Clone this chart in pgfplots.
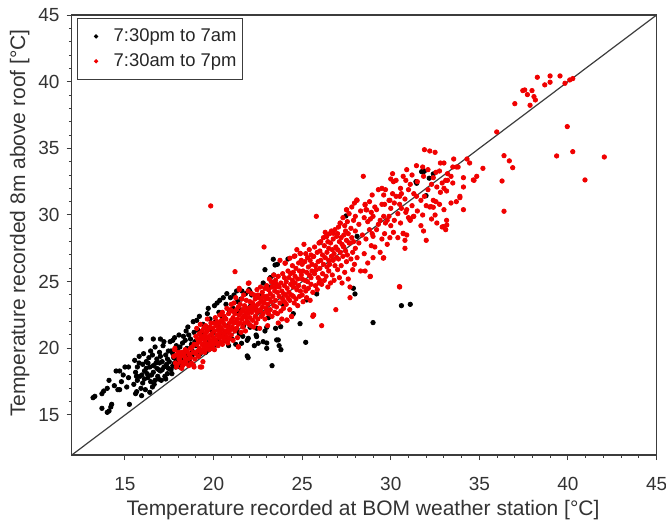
\documentclass[border=0pt]{standalone}
\usepackage{fontspec}
\setmainfont{Liberation Sans}
\usepackage{pgfplots}
\pgfplotsset{compat=1.18}
\definecolor{axgray}{RGB}{60,60,60}
\definecolor{dotred}{RGB}{240,0,0}
\begin{document}
\begin{tikzpicture}
\useasboundingbox (-35.9pt,-35pt) rectangle (297.1pt,227.5pt);
\begin{axis}[
  at={(0,0)}, anchor=south west,
  scale only axis, width=292.4pt, height=220pt,
  xmin=12, xmax=45, ymin=12, ymax=45,
  xtick={15,20,...,45}, ytick={15,20,...,45},
  minor x tick num=4, minor y tick num=4,
  tick align=outside, tick pos=left,
  major tick length=2.6pt, minor tick length=1.5pt,
  axis line style={axgray, line width=0.6pt},
  every tick/.style={axgray, line width=0.5pt},
  /pgf/number format/assume math mode=true,
  tick label style={font=\fontsize{9.5}{11.4}\selectfont, text=black!80},
  xticklabel style={yshift=-5pt},
  label style={font=\fontsize{10.5}{12.6}\selectfont, text=black!80},
  xlabel={Temperature recorded at BOM weather station [°C]},
  ylabel={Temperature recorded 8m above roof [°C]},
  xlabel style={at={(axis description cs:0.498,-0.125)}, anchor=center},
  ylabel style={at={(axis description cs:-0.089,0.527)}, anchor=center},
  legend style={at={(axis description cs:0,1)}, anchor=north west, xshift=2.6pt, yshift=-1.5pt,
    draw=axgray, line width=0.5pt, font=\fontsize{9.2}{11}\selectfont, text=black!85,
    inner xsep=8.5pt, inner ysep=3pt, row sep=0.5pt},
  legend cell align=left,
  legend image code/.code={\draw[mark repeat=2,mark phase=2,#1,draw=none,mark size=0.8pt] plot coordinates {(0pt,0pt)(7pt,0pt)(14pt,0pt)};},
]
\addplot[only marks, mark=*, mark size=1.1pt, mark options={draw=black, fill=black}] coordinates {
(13.2,16.3)(13.3,16.4)(13.7,15.5)(13.8,16.8)(14.0,17.0)(14.1,17.6)(14.0,15.2)(14.1,15.3)(14.2,15.6)(14.25,15.8)
(14.5,18.3)(14.7,18.3)(14.4,17.2)(14.6,16.9)(14.8,17.5)(15.1,17.1)(15.25,15.8)(14.9,18.0)(15.0,18.6)(15.2,17.8)
(13.7,16.6)(14.7,16.9)(15.9,20.7)(16.6,20.7)(17.0,20.7)(17.7,20.6)(15.2,18.6)(15.94,16.45)(15.66,16.75)
(15.5,17.3)(15.6,18.2)(15.7,17.6)(15.8,18.9)(15.9,17.0)(15.6,16.6)(15.8,19.4)(15.95,18.0)(15.7,18.6)(15.55,19.1)(15.85,17.9)(15.65,17.9)
(16.0,17.4)(16.1,18.3)(16.2,19.0)(16.3,17.8)(16.4,18.6)(16.05,19.6)(16.15,16.9)(16.25,18.1)(16.35,19.3)(16.45,17.5)(16.1,17.7)(16.3,18.9)(16.4,16.7)(16.2,18.5)(16.0,18.8)(16.45,19.8)
(16.5,18.0)(16.6,18.7)(16.7,17.6)(16.8,19.2)(16.9,18.4)(16.55,19.5)(16.65,17.3)(16.75,18.9)(16.85,17.9)(16.95,19.7)(16.6,18.2)(16.8,18.5)(16.7,20.1)(16.9,17.7)(16.55,17.1)(16.95,18.9)
(17.0,18.3)(17.1,19.0)(17.2,18.6)(17.3,19.5)(17.4,18.1)(17.05,17.6)(17.15,20.2)(17.25,17.9)(17.35,18.8)(17.45,19.8)(17.1,18.4)(17.3,17.7)(17.4,19.2)(17.2,20.5)(17.0,19.4)(17.45,18.5)
(17.5,19.0)(17.6,18.4)(17.7,19.6)(17.8,18.9)(17.9,20.2)(17.55,20.5)(17.65,18.1)(17.75,19.3)(17.85,18.6)(17.95,19.9)(17.6,19.8)(17.8,20.8)(17.7,18.7)(17.9,19.1)
(18.0,19.4)(18.1,20.1)(18.2,18.8)(18.3,19.7)(18.4,20.6)(18.05,21.0)(18.15,19.2)(18.25,20.4)(18.35,19.0)(18.45,21.3)(18.1,18.6)(18.3,20.9)(18.4,19.5)
(18.5,20.0)(18.6,19.3)(18.7,20.7)(18.8,19.8)(18.9,21.2)(18.55,21.6)(18.65,19.0)(18.75,20.3)(18.85,22.0)(18.95,20.5)(18.6,21.0)(18.8,19.5)
(19.0,20.2)(19.1,21.4)(19.2,19.8)(19.3,20.9)(19.4,21.8)(19.05,22.1)(19.15,20.6)(19.25,19.6)(19.35,21.1)(19.45,20.3)(19.2,22.4)
(19.5,20.8)(19.6,21.6)(19.7,20.1)(19.8,22.2)(19.9,21.0)(19.55,19.7)(19.65,22.6)(19.75,20.5)(19.85,21.4)(19.95,20.0)(19.7,23.0)
(20.0,21.2)(20.1,22.0)(20.2,20.6)(20.3,22.7)(20.4,21.5)(20.05,23.2)(20.15,20.3)(20.25,21.8)(20.35,23.6)(20.45,20.9)(20.2,23.4)
(20.5,22.3)(20.6,21.1)(20.7,23.3)(20.8,21.7)(20.9,22.8)(20.55,23.8)(20.65,20.6)(20.75,24.1)(20.85,20.2)(20.95,23.8)
(21.0,22.0)(21.1,23.0)(21.2,21.4)(21.3,24.3)(21.4,22.6)(21.05,20.7)(21.15,24.0)(21.25,20.3)(21.35,23.5)(21.45,21.1)
(21.5,22.9)(21.6,24.3)(21.7,21.7)(21.8,24.1)(21.9,20.6)(21.55,23.7)(21.65,20.9)(21.75,22.4)(21.95,19.3)(21.9,19.43)
(22.0,24.4)(22.8,24.9)(22.4,21.0)(23.2,25.3)(22.8,20.5)(22.1,23.2)(22.3,20.2)(22.5,22.8)(22.7,24.0)(22.9,21.3)(22.9,25.9)
(22.06,21.58)(22.43,20.88)(22.52,20.38)(21.58,20.38)(21.96,20.75)(21.3,21.38)(22.43,21.5)(23.0,21.58)(22.06,24.25)(22.15,24.0)
(23.0,20.0)(23.3,18.7)(23.5,21.5)(23.7,20.2)(23.8,19.9)(23.2,24.6)(23.6,26.3)(23.1,22.3)(23.9,23.3)(23.4,25.5)
(23.37,26.68)(23.47,26.25)(23.65,20.63)(23.79,21.62)(23.0,20.4)(23.56,20.63)
(24.5,22.6)(24.88,21.85)(25.2,20.45)(25.26,23.63)(25.82,24.08)(24.2,26.7)(26.0,27.93)(27.98,24.08)(27.89,24.5)
(27.47,29.93)(29.0,21.93)(30.6,23.2)(31.1,23.3)(28.1,28.4)
(31.74,33.25)(31.84,33.25)(31.42,32.5)(31.46,32.38)(32.17,32.76)(32.4,33.08)(31.99,31.45)(31.9,33.3)
};
\addlegendentry{\hspace{6pt}\makebox[54pt][l]{7:30pm to 7am}}
\addplot[only marks, mark=*, mark size=1.1pt, mark options={draw=dotred, fill=dotred}] coordinates {
(17.75,19.4)(17.8,19.9)(17.85,18.9)(17.9,19.5)(17.95,18.8)(18.0,19.7)(18.05,19.2)(18.1,19.3)(18.15,19.0)(18.2,19.7)
(18.25,18.7)(18.3,19.6)(18.35,19.4)(18.4,19.9)(18.45,18.9)(18.5,19.8)(18.55,19.2)(18.6,19.6)(18.65,19.5)(18.7,20.0)
(18.75,18.9)(18.8,20.1)(18.85,19.7)(18.9,20.3)(18.95,19.2)(18.2,18.5)(18.6,18.7)(18.9,18.6)(19.25,18.6)(19.4,19.0)
(18.4,19.1)(18.7,19.3)(17.9,18.6)(18.3,18.8)(18.1,19.5)(17.82,20.0)(19.33,18.6)(18.86,18.75)(18.39,18.88)
(19.0,20.9)(19.0,19.6)(19.05,20.3)(19.05,21.5)(19.1,19.8)(19.1,20.7)(19.15,20.5)(19.15,19.4)(19.2,21.1)(19.2,20.0)
(19.25,20.6)(19.25,21.8)(19.3,19.7)(19.3,20.9)(19.35,20.3)(19.35,21.3)(19.4,20.8)(19.4,19.9)(19.45,21.5)(19.45,20.2)
(19.5,20.6)(19.5,21.0)(19.5,19.7)(19.55,21.7)(19.55,20.4)(19.6,20.0)(19.6,21.2)(19.65,20.8)(19.65,22.2)(19.7,21.4)
(19.7,20.3)(19.75,19.9)(19.75,20.9)(19.8,21.6)(19.8,20.6)(19.85,20.2)(19.85,21.9)(19.9,21.1)(19.9,20.5)(19.95,20.0)
(19.95,21.5)(20.0,20.8)(20.0,21.9)(20.0,20.3)(20.05,21.3)(20.05,19.9)(20.1,20.6)(20.1,22.3)(20.15,21.7)(20.15,20.4)
(20.2,21.0)(20.2,22.0)(20.25,20.2)(20.25,21.4)(20.3,21.9)(20.3,20.8)(20.35,21.2)(20.35,22.5)(20.4,20.5)(20.4,21.6)
(20.45,22.1)(20.45,20.9)(20.5,21.4)(20.5,20.3)(20.5,22.7)(20.55,21.9)(20.55,20.8)(20.6,21.1)(20.6,22.4)(20.65,20.6)
(20.65,21.7)(20.7,22.2)(20.7,21.3)(20.75,20.9)(20.75,23.0)(20.8,21.6)(20.8,20.4)(20.85,22.6)(20.85,21.2)(20.9,21.9)
(20.9,20.7)(20.95,21.4)(20.95,22.9)
(21.0,22.1)(21.0,21.0)(21.0,23.3)(21.05,21.6)(21.05,22.8)(21.1,20.6)(21.1,22.3)(21.15,23.4)(21.15,21.9)(21.2,21.3)
(21.2,22.6)(21.25,22.0)(21.25,23.8)(21.3,21.5)(21.3,22.9)(21.35,20.8)(21.35,22.2)(21.4,23.1)(21.4,21.8)(21.4,20.1)
(21.45,22.5)(21.45,24.4)(21.5,21.9)(21.5,23.3)(21.55,22.7)(21.55,21.2)(21.6,23.7)(21.6,22.2)(21.65,21.6)(21.65,22.9)
(21.7,22.4)(21.7,24.0)(21.75,23.2)(21.75,21.9)(21.8,22.7)(21.8,21.3)(21.85,23.6)(21.85,22.3)(21.9,22.0)(21.9,23.0)
(21.95,24.3)(21.95,22.6)(22.0,22.9)(22.0,21.8)(22.0,24.9)(22.05,23.5)(22.05,22.3)(22.1,21.7)(22.1,23.1)(22.15,22.7)
(22.15,24.1)(22.2,23.4)(22.2,22.1)(22.25,22.9)(22.25,21.6)(22.3,24.0)(22.3,23.2)(22.35,22.4)(22.35,23.7)(22.4,23.0)
(22.4,21.9)(22.45,24.4)(22.45,22.7)(22.5,23.3)(22.5,22.2)(22.5,24.0)(22.55,22.8)(22.55,23.8)(22.6,21.5)(22.6,23.4)
(22.65,24.6)(22.65,22.9)(22.7,23.6)(22.7,22.4)(22.75,23.1)(22.75,24.2)(22.8,22.6)(22.8,23.9)(22.85,27.6)(22.85,23.4)
(22.9,22.2)(22.9,24.5)(22.95,23.7)(22.95,23.0)(21.21,25.75)(21.45,24.5)(21.96,24.88)(21.4,20.12)
(23.0,23.9)(23.0,22.8)(23.0,24.7)(23.05,23.3)(23.05,21.7)(23.1,24.4)(23.1,22.6)(23.15,23.7)(23.15,25.2)(23.2,22.9)
(23.2,24.1)(23.25,23.5)(23.25,25.0)(23.3,24.6)(23.3,22.4)(23.35,23.9)(23.35,24.9)(23.4,23.2)(23.4,25.5)(23.45,24.3)
(23.45,22.7)(23.5,23.6)(23.5,25.1)(23.5,24.6)(23.55,24.8)(23.55,23.1)(23.6,22.6)(23.6,24.2)(23.65,25.4)(23.65,21.9)
(23.7,23.9)(23.7,24.6)(23.75,26.6)(23.75,23.4)(23.8,24.9)(23.8,22.8)(23.85,24.3)(23.85,22.2)(23.9,25.6)(23.9,23.7)
(23.95,24.1)(23.95,23.0)(24.0,24.7)(24.0,23.5)(24.0,25.3)(24.05,26.4)(24.05,24.0)(24.1,23.3)(24.1,25.0)(24.15,24.5)
(24.15,22.1)(24.2,25.8)(24.2,23.8)(24.25,24.2)(24.25,25.3)(24.3,23.6)(24.3,22.9)(24.35,25.6)(24.35,24.8)(24.4,24.0)
(24.4,22.4)(24.45,26.2)(24.45,25.1)(24.5,23.9)(24.5,24.6)(24.5,25.7)(24.55,26.9)(24.55,23.4)(24.6,24.9)(24.6,25.4)
(24.65,23.7)(24.65,26.0)(24.7,27.4)(24.7,24.4)(24.75,25.2)(24.75,23.2)(24.8,24.7)(24.8,26.4)(24.85,25.8)(24.85,23.9)
(24.9,27.1)(24.9,24.3)(24.95,25.5)(24.95,26.6)(24.03,26.38)(24.31,26.76)(24.59,26.93)(24.13,22.13)(24.41,22.38)
(25.0,25.2)(25.0,24.0)(25.0,26.3)(25.05,25.8)(25.05,23.5)(25.1,27.8)(25.1,24.6)(25.15,26.5)(25.15,25.1)(25.2,24.3)
(25.2,27.1)(25.25,25.7)(25.25,23.8)(25.3,26.8)(25.3,25.0)(25.35,24.5)(25.35,26.1)(25.4,27.4)(25.4,25.5)(25.45,23.6)
(25.45,26.6)(25.5,25.3)(25.5,27.0)(25.5,24.8)(25.55,26.3)(25.55,25.8)(25.6,22.4)(25.6,24.2)(25.65,26.9)(25.65,22.5)
(25.7,25.6)(25.7,27.6)(25.75,26.2)(25.75,24.7)(25.8,29.9)(25.8,25.9)(25.85,27.2)(25.85,24.4)(25.9,26.5)(25.9,25.3)
(25.95,27.9)(25.95,24.9)(26.0,26.0)(26.0,27.3)(26.0,25.1)(26.05,28.0)(26.05,26.6)(26.1,21.7)(26.1,24.8)(26.15,27.0)
(26.15,25.6)(26.2,26.3)(26.2,28.3)(26.25,25.1)(26.25,27.7)(26.3,28.7)(26.3,26.8)(26.35,28.4)(26.35,25.4)(26.4,27.2)
(26.4,26.1)(26.45,24.6)(26.45,28.0)(26.5,26.6)(26.5,27.5)(26.5,25.8)(26.55,28.6)(26.55,26.3)(26.6,24.9)(26.6,27.9)
(26.65,26.9)(26.65,28.8)(26.7,27.4)(26.7,25.5)(26.75,28.2)(26.75,26.6)(26.8,25.1)(26.8,27.1)(26.85,28.9)(26.85,26.2)
(26.9,22.9)(26.9,27.6)(26.95,26.8)(26.95,28.4)(25.63,26.88)(24.88,27.13)(25.63,22.5)
(27.0,27.4)(27.0,25.9)(27.0,28.6)(27.05,26.7)(27.05,29.1)(27.1,28.0)(27.1,25.3)(27.15,29.4)(27.15,27.2)(27.2,26.2)
(27.2,28.3)(27.25,27.8)(27.25,24.9)(27.3,29.8)(27.3,26.9)(27.35,28.5)(27.35,27.6)(27.4,25.7)(27.4,29.2)(27.45,27.3)
(27.45,28.8)(27.5,30.4)(27.5,26.5)(27.5,28.1)(27.55,27.0)(27.55,29.5)(27.6,28.6)(27.6,25.2)(27.65,27.9)(27.65,30.1)
(27.7,24.6)(27.7,23.8)(27.7,27.9)(27.75,29.0)(27.75,26.7)(27.8,28.3)(27.8,30.6)(27.85,27.2)(27.85,25.9)(27.9,29.6)
(27.9,28.0)(27.95,26.3)(27.95,30.9)(28.0,28.8)(28.0,27.5)(28.0,29.9)(28.1,31.1)(28.1,26.8)(28.2,29.3)(28.2,27.9)
(28.3,25.8)(28.3,30.3)(28.4,28.5)(28.45,32.9)(28.5,29.8)(28.5,27.1)(28.55,25.8)(28.55,30.8)(28.6,28.2)(28.6,30.4)
(28.7,26.4)(28.7,29.5)(28.8,31.0)(28.8,28.9)(28.85,25.4)(28.85,29.7)(28.9,27.7)(28.9,30.2)(28.95,28.6)(28.95,31.5)
(28.08,31.13)(28.55,30.75)(28.64,30.38)(27.51,30.38)(27.14,29.38)(26.76,28.63)(26.38,28.38)(27.32,27.63)
(29.0,29.9)(29.0,26.8)(29.0,28.4)(29.1,30.6)(29.1,27.6)(29.2,30.4)(29.2,28.9)(29.3,31.9)(29.3,29.3)(29.4,29.6)
(29.4,27.2)(29.5,32.0)(29.5,30.8)(29.5,28.2)(29.6,31.5)(29.6,26.8)(29.6,29.9)(29.65,30.8)(29.65,28.6)(29.7,31.9)
(29.7,29.4)(29.8,29.6)(29.8,27.8)(29.9,31.1)(29.9,29.9)(29.95,28.3)(29.95,31.1)(30.0,30.5)(30.0,32.7)(30.0,29.2)
(30.1,33.1)(30.1,31.6)(30.15,32.5)(30.15,28.7)(30.2,30.9)(30.2,29.6)(30.3,32.6)(30.3,31.4)(30.4,30.1)(30.4,28.3)
(30.5,31.4)(30.5,24.6)(30.5,30.8)(30.55,32.0)(30.55,29.4)(30.6,31.6)(30.6,30.5)(30.7,28.6)(30.7,32.9)(30.8,27.5)
(30.8,28.1)(30.8,31.2)(30.85,32.6)(30.85,30.2)(30.9,33.4)(30.9,28.5)(30.9,30.4)(29.58,26.76)(28.83,25.38)(30.49,24.63)
(31.0,31.9)(31.0,29.8)(31.1,29.6)(31.1,32.3)(31.2,30.7)(31.2,33.0)(31.3,29.9)(31.3,31.6)(31.45,31.4)(31.45,33.7)
(31.5,30.3)(31.5,32.5)(31.7,29.2)(31.7,31.1)(31.8,33.6)(31.8,30.0)(31.85,28.8)(31.85,32.9)(31.9,34.9)(31.9,31.4)
(32.0,28.1)(32.0,30.7)(32.1,33.4)(32.1,31.9)(32.2,34.8)(32.2,30.6)(32.3,32.3)(32.3,29.7)(32.4,31.1)(32.4,32.8)
(32.5,34.7)(32.5,30.0)(32.55,31.0)(32.55,33.2)(32.6,32.1)(32.6,29.4)(32.75,33.3)(32.75,30.8)(32.8,31.7)(32.8,33.9)
(32.9,29.1)(32.9,32.4)(33.0,33.9)(33.0,32.0)(33.0,30.4)(31.08,29.63)(31.27,29.88)(30.7,28.63)(32.27,30.63)(32.4,30.58)
(33.1,28.9)(33.1,32.6)(33.15,29.6)(33.15,31.8)(33.2,32.6)(33.2,33.1)(33.4,30.9)(33.4,32.9)(33.5,33.6)(33.5,32.4)
(33.55,34.2)(33.7,33.6)(33.7,31.0)(33.8,33.6)(33.9,31.4)(33.9,31.3)(34.1,32.8)(34.1,32.1)(34.1,30.4)(34.3,34.2)
(34.45,33.9)(34.7,32.6)(34.85,32.9)(35.2,33.5)(33.16,29.25)(32.97,29.13)(34.66,32.63)
(35.98,36.23)(36.39,34.45)(36.69,34.06)(36.88,33.55)(36.28,32.55)(36.39,30.28)(37.0,38.35)(37.45,39.33)(37.56,39.38)
(37.71,39.03)(37.97,39.33)(38.08,38.88)(38.16,38.63)(37.86,38.23)(38.27,40.33)(38.69,39.76)(38.99,40.43)(38.99,39.96)
(39.55,40.43)(39.83,39.88)(40.1,40.13)(40.27,40.23)(39.96,36.63)(39.36,34.43)(40.27,34.75)(42.05,34.35)(40.96,32.63)
(19.84,30.68)
};
\addlegendentry{\hspace{6pt}\makebox[54pt][l]{7:30am to 7pm}}
\addplot[axgray, line width=0.6pt, forget plot] coordinates {(12,12)(45,45)};
\end{axis}
\end{tikzpicture}
\end{document}
